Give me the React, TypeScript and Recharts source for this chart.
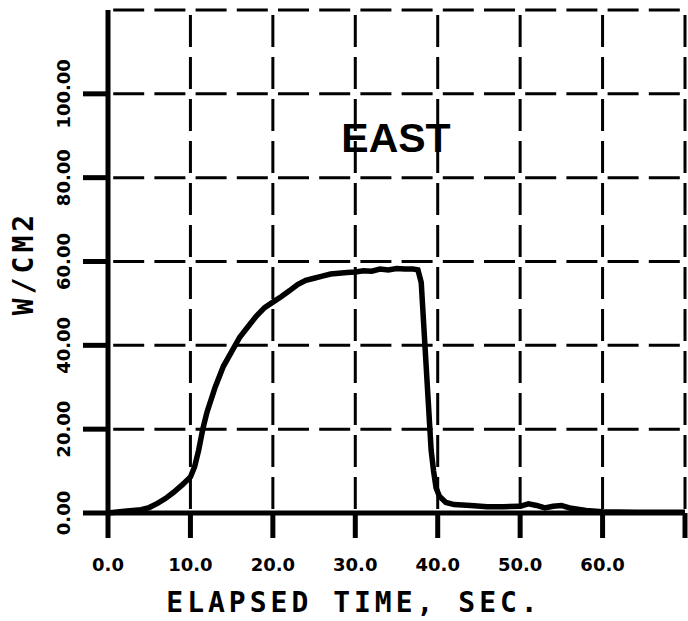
import React from 'react';
import { LineChart, Line, XAxis, YAxis, CartesianGrid } from 'recharts';

const timeSec = [0, 2, 4, 5, 6, 7, 8, 9, 10, 10.5, 11, 11.5, 12, 13, 14, 15, 16, 17, 18, 19, 20, 21, 22, 23, 24, 25, 26, 27, 28, 29, 30, 31, 32, 33, 34, 35, 36, 37, 37.6, 38, 38.3, 38.6, 38.9, 39.2, 39.5, 39.8, 40.2, 41, 42, 44, 46, 48, 50, 51, 52, 53, 54, 55, 56, 58, 60, 64, 70];
const wattsPerCm2 = [0, 0.4, 0.8, 1.3, 2.3, 3.5, 5, 6.7, 8.6, 11, 15, 20, 24, 30, 35, 38.5, 42, 44.5, 47, 49, 50.3, 51.6, 53, 54.5, 55.5, 56, 56.5, 57, 57.2, 57.4, 57.5, 57.8, 57.7, 58.2, 58, 58.3, 58.2, 58.2, 58, 55, 45, 35, 25, 15, 10, 6, 4, 2.5, 2, 1.8, 1.5, 1.5, 1.6, 2.2, 1.8, 1.2, 1.6, 1.8, 1.2, 0.6, 0.3, 0.2, 0.2];

const xTicks = [0, 10, 20, 30, 40, 50, 60, 70];
const xTickLabels = ['0.0', '10.0', '20.0', '30.0', '40.0', '50.0', '60.0', ''];
const yTicks = [0, 20, 40, 60, 80, 100];
const yTickLabels = ['0.00', '20.00', '40.00', '60.00', '80.00', '100.00'];
const gridX = [10, 20, 30, 40, 50, 60, 70];
const gridY = [20, 40, 60, 80, 100, 120];

const xTitle = 'ELAPSED TIME, SEC.';
const yTitle = 'W/CM2';
const panelTitle = 'EAST';

const data = timeSec.map((t, i) => ({ t, v: wattsPerCm2[i] }));

const tickFont = '"DejaVu Sans", sans-serif';
const titleFont = '"DejaVu Sans Mono", monospace';

const XTick = (p: any) => {
  const idx = xTicks.indexOf(p.payload.value);
  return (
    <text x={p.x} y={p.y + 31} textAnchor="middle" fontFamily={tickFont} fontWeight="bold" fontSize={18} fill="#000">
      {xTickLabels[idx] ?? ''}
    </text>
  );
};

const YTick = (p: any) => {
  const idx = yTicks.indexOf(p.payload.value);
  const X = p.x - 11;
  const Y = p.y;
  return (
    <text x={X} y={Y} transform={`rotate(-90, ${X}, ${Y})`} textAnchor="middle" fontFamily={tickFont} fontWeight="bold" fontSize={18} fill="#000">
      {yTickLabels[idx] ?? ''}
    </text>
  );
};

const HLine = (p: any) => (
  <line key={`h-${p.index}`} x1={p.x1} y1={p.y1} x2={p.x2} y2={p.y2} stroke="#000" strokeWidth={3} strokeDasharray="31 10.2" strokeDashoffset={36} />
);
const VLine = (p: any) => (
  <line key={`v-${p.index}`} x1={p.x1} y1={p.y1} x2={p.x2} y2={p.y2} stroke="#000" strokeWidth={3} strokeDasharray="32 10" strokeDashoffset={37} />
);

export default function App() {
  return (
    <div style={{ position: 'absolute', left: 0, top: 0, width: 688, height: 621, background: '#fff', overflow: 'hidden' }}>
      <LineChart width={688} height={621} data={data} margin={{ top: 10, right: 3, left: 0, bottom: 0 }}>
        <CartesianGrid horizontalValues={gridY} verticalValues={gridX} horizontal={HLine} vertical={VLine} />
        <XAxis
          dataKey="t"
          type="number"
          domain={[0, 70]}
          ticks={xTicks}
          interval={0}
          height={108}
          tickSize={25}
          tick={XTick}
          axisLine={{ stroke: '#000', strokeWidth: 5 }}
          tickLine={{ stroke: '#000', strokeWidth: 5 }}
        />
        <YAxis
          type="number"
          domain={[0, 120]}
          ticks={yTicks}
          interval={0}
          width={108}
          tickSize={25}
          tick={YTick}
          axisLine={{ stroke: '#000', strokeWidth: 5 }}
          tickLine={{ stroke: '#000', strokeWidth: 5 }}
        />
        <Line dataKey="v" type="linear" stroke="#000" strokeWidth={5.5} dot={false} isAnimationActive={false} />
      </LineChart>
      <div style={{ position: 'absolute', left: 0, top: 589, width: 708, textAlign: 'center', fontFamily: titleFont, fontWeight: 'bold', fontSize: 28, letterSpacing: 4, lineHeight: '28px', color: '#000', whiteSpace: 'nowrap' }}>
        {xTitle}
      </div>
      <div style={{ position: 'absolute', left: 24, top: 263, transform: 'translate(-50%, -50%) rotate(-90deg)', fontFamily: titleFont, fontWeight: 'bold', fontSize: 28, letterSpacing: 4, lineHeight: '28px', color: '#000', whiteSpace: 'nowrap' }}>
        {yTitle}
      </div>
      <div style={{ position: 'absolute', left: 396, top: 138, transform: 'translate(-50%, -50%)', fontFamily: '"Liberation Sans", Arial, sans-serif', fontWeight: 'bold', fontSize: 41, lineHeight: '41px', color: '#000', whiteSpace: 'nowrap' }}>
        {panelTitle}
      </div>
    </div>
  );
}
